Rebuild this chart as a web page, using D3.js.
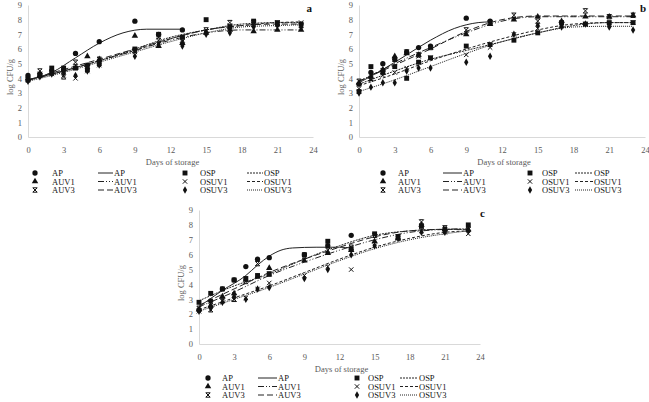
<!DOCTYPE html>
<html>
<head>
<meta charset="utf-8">
<script src="https://cdn.jsdelivr.net/npm/d3@7"></script>
<style>
  body { margin: 0; background: #fff; }
  svg { font-family: "Liberation Serif", "DejaVu Serif", serif; }
</style>
</head>
<body>
<svg id="chart" width="649" height="402"></svg>
<script>
// sampling days (markers) and fit days (lines)
const days = [0, 1, 2, 3, 4, 5, 6, 9, 11, 13, 15, 17, 19, 21, 23];
const fitDays = [0, 3, 6, 9, 12, 15, 18, 21, 23];
const xTicks = [0, 3, 6, 9, 12, 15, 18, 21, 24];
const yTicks = [0, 1, 2, 3, 4, 5, 6, 7, 8, 9];
const seriesNames = ["AP", "AUV1", "AUV3", "OSP", "OSUV1", "OSUV3"];

// panel a - observed
const a_AP    = [4.2, 4.3, 4.5, 4.6, 5.7, 4.9, 6.5, 7.9, 7.0, 7.3, null, null, null, null, null];
const a_AUV1  = [4.0, 4.2, 4.4, 4.6, 4.7, 5.5, 5.3, 6.9, 6.2, 6.4, 7.1, 7.3, 7.2, 7.3, 7.3];
const a_AUV3  = [3.9, 4.5, 4.4, 4.1, 5.1, 4.8, 5.3, 5.9, 6.6, 6.6, 7.3, 7.8, 7.8, 7.7, 7.6];
const a_OSP   = [3.9, 4.2, 4.7, 4.7, 4.7, 4.6, 5.0, 6.0, 7.0, 6.8, 8.0, 7.5, 7.9, 7.8, 7.7];
const a_OSUV1 = [4.0, 4.3, 4.3, 4.2, 4.0, 4.5, 4.9, 5.8, 6.8, 6.5, 7.2, 7.6, 7.7, 7.8, 7.8];
const a_OSUV3 = [3.8, 4.1, 4.3, 4.4, 4.2, 4.5, 4.9, 5.5, 6.3, 6.2, 7.0, 7.1, 7.5, 7.6, 7.5];
// panel a - fitted
const a_apFitDays = [0, 2, 4, 6, 8, 10, 13];
const a_fitAP     = [3.9, 4.4, 5.4, 6.4, 7.1, 7.35, 7.35];
const a_fitAUV1   = [3.85, 4.5, 5.2, 5.9, 6.6, 7.1, 7.3, 7.3, 7.3];
const a_fitAUV3   = [3.9, 4.6, 5.3, 6.0, 6.7, 7.3, 7.6, 7.7, 7.7];
const a_fitOSP    = [3.9, 4.5, 5.2, 6.0, 6.8, 7.3, 7.7, 7.8, 7.8];
const a_fitOSUV1  = [3.9, 4.5, 5.2, 5.9, 6.7, 7.3, 7.6, 7.8, 7.85];
const a_fitOSUV3  = [3.8, 4.4, 5.1, 5.8, 6.5, 7.1, 7.5, 7.6, 7.65];

// panel b - observed
const b_AP    = [3.6, 4.4, 5.0, 5.3, 5.8, 6.1, 6.2, 8.1, 7.9, null, null, null, null, null, null];
const b_AUV1  = [3.7, 4.1, 4.6, 5.5, 5.7, 5.6, 6.1, 7.0, 7.7, 8.0, 8.2, 7.9, 8.2, 8.2, 8.3];
const b_AUV3  = [3.8, 4.0, 4.5, 5.3, 5.8, 5.6, 6.1, 7.3, 7.8, 8.3, 7.9, 7.7, 8.6, 8.2, 8.3];
const b_OSP   = [3.1, 4.8, 4.4, 4.8, 4.0, 5.1, 5.4, 6.2, 6.3, 6.6, 7.1, 7.8, 7.7, 7.8, 7.8];
const b_OSUV1 = [3.3, 3.9, 4.2, 4.4, 4.7, 5.5, 5.4, 5.6, 6.1, 7.0, 7.4, 7.6, 7.7, 7.7, 7.8];
const b_OSUV3 = [3.0, 3.4, 3.7, 3.7, 4.5, 4.7, 4.7, 5.1, 5.5, 7.0, 7.6, 7.5, 7.7, 7.5, 7.3];
// panel b - fitted
const b_apFitDays = [0, 2, 4, 6, 8, 10, 11];
const b_fitAP     = [3.7, 4.6, 5.6, 6.6, 7.4, 7.8, 7.85];
const b_fitAUV1   = [3.8, 5.0, 6.1, 7.1, 7.9, 8.2, 8.2, 8.2, 8.2];
const b_fitAUV3   = [3.8, 4.9, 6.0, 7.2, 8.0, 8.25, 8.25, 8.25, 8.25];
const b_fitOSP    = [3.6, 4.5, 5.3, 5.9, 6.5, 7.1, 7.6, 7.8, 7.8];
const b_fitOSUV1  = [3.5, 4.3, 5.2, 6.0, 6.7, 7.3, 7.7, 7.8, 7.8];
const b_fitOSUV3  = [3.1, 3.9, 4.8, 5.7, 6.5, 7.1, 7.5, 7.55, 7.55];

// panel c - observed
const c_AP    = [2.3, 2.9, 3.7, 4.3, 5.2, 5.7, 5.8, 6.0, 6.6, 7.3, null, null, null, null, null];
const c_AUV1  = [2.3, 2.6, 3.2, 3.4, 4.3, 4.5, 5.1, 5.6, 6.1, 6.3, 6.9, 7.1, 8.0, 7.7, 7.7];
const c_AUV3  = [2.4, 2.3, 2.9, 3.0, 4.2, 5.4, 4.7, 5.9, 6.3, 6.5, 7.3, 7.2, 8.2, 7.8, 7.7];
const c_OSP   = [2.8, 3.4, 3.7, 4.3, 4.4, 4.6, 4.7, 6.0, 6.9, 6.4, 7.4, 7.2, 7.9, 7.7, 8.0];
const c_OSUV1 = [2.2, 2.6, 2.9, 3.0, 3.1, 3.7, 4.1, 4.6, 5.2, 5.0, 6.6, 7.1, 7.6, 7.5, 7.4];
const c_OSUV3 = [2.2, 2.4, 2.8, 3.2, 3.0, 3.7, 3.8, 4.4, 5.0, 6.0, 6.6, 7.1, 7.5, 7.5, 7.6];
// panel c - fitted
const c_apFitDays = [0, 2, 4, 5, 6, 7, 8, 10, 12, 13];
const c_fitAP     = [2.5, 3.6, 4.6, 5.3, 5.9, 6.3, 6.45, 6.5, 6.5, 6.45];
const c_fitAUV1   = [2.5, 3.5, 4.6, 5.5, 6.3, 7.0, 7.5, 7.7, 7.75];
const c_fitAUV3   = [2.6, 3.7, 4.8, 5.7, 6.5, 7.2, 7.6, 7.7, 7.7];
const c_fitOSP    = [2.9, 3.9, 4.7, 5.7, 6.6, 7.3, 7.6, 7.7, 7.7];
const c_fitOSUV1  = [2.3, 3.1, 3.9, 4.8, 5.7, 6.5, 7.1, 7.5, 7.6];
const c_fitOSUV3  = [2.2, 3.0, 3.8, 4.7, 5.6, 6.4, 7.0, 7.4, 7.6];

const panels = [
  { label: "a", xr: [28, 313], yr: [137, 5], lab: [312, 8],
    obs: [a_AP, a_AUV1, a_AUV3, a_OSP, a_OSUV1, a_OSUV3],
    apFit: a_apFitDays, fit: [a_fitAP, a_fitAUV1, a_fitAUV3, a_fitOSP, a_fitOSUV1, a_fitOSUV3],
    legY: [173, 181.5, 190], legX: [35, 52, 98, 113, 185, 200, 247, 263] },
  { label: "b", xr: [359, 645], yr: [137, 5], lab: [646, 8],
    obs: [b_AP, b_AUV1, b_AUV3, b_OSP, b_OSUV1, b_OSUV3],
    apFit: b_apFitDays, fit: [b_fitAP, b_fitAUV1, b_fitAUV3, b_fitOSP, b_fitOSUV1, b_fitOSUV3],
    legY: [173, 181.5, 190], legX: [383, 398, 443, 462, 530, 542, 575, 593] },
  { label: "c", xr: [199, 480], yr: [344, 210], lab: [485, 213],
    obs: [c_AP, c_AUV1, c_AUV3, c_OSP, c_OSUV1, c_OSUV3],
    apFit: c_apFitDays, fit: [c_fitAP, c_fitAUV1, c_fitAUV3, c_fitOSP, c_fitOSUV1, c_fitOSUV3],
    legY: [378, 386.5, 395], legX: [208, 222, 258, 277, 357, 368, 400, 418] }
];

const dashes = ["none", "6,2,1,2,1,2", "6,3", "2,1", "3,2", "1,1"];

const svg = d3.select("#chart");

// marker shapes, s = half size
function markerPath(i, s) {
  if (i === 0) return d3.symbol(d3.symbolCircle, 22)();
  if (i === 1) return d3.symbol(d3.symbolTriangle, 18)();
  if (i === 3) return d3.symbol(d3.symbolSquare, 24)();
  if (i === 5) return d3.symbol(d3.symbolDiamond, 16)();
  if (i === 4) return `M${-s},${-s}L${s},${s}M${s},${-s}L${-s},${s}`;
  // AUV3: x with bars
  return `M${-s},${-s}L${s},${-s}M${-s},${s}L${s},${s}M${-s},${-s}L${s},${s}M${s},${-s}L${-s},${s}`;
}
function drawMarker(g, i, x, y) {
  const stroked = (i === 2 || i === 4);
  g.append("path")
    .attr("transform", `translate(${x},${y})`)
    .attr("d", markerPath(i, 2.2))
    .attr("fill", stroked ? "none" : "#111")
    .attr("stroke", stroked ? "#111" : "none")
    .attr("stroke-width", 1);
}

panels.forEach(function(p) {
  const x = d3.scaleLinear().domain([0, 24]).range(p.xr);
  const y = d3.scaleLinear().domain([0, 9]).range(p.yr);
  const g = svg.append("g");

  const xa = g.append("g")
    .attr("transform", `translate(0,${p.yr[0]})`)
    .call(d3.axisBottom(x).tickValues(xTicks).tickSize(0).tickPadding(10));
  const ya = g.append("g")
    .attr("transform", `translate(${p.xr[0]},0)`)
    .call(d3.axisLeft(y).tickValues(yTicks).tickSize(0).tickPadding(6));
  [xa, ya].forEach(function(a) {
    a.select(".domain").attr("stroke", "#d9d9d9");
    a.selectAll("text").attr("fill", "#595959").style("font-size", "8.5px")
      .style("font-family", "Liberation Serif");
  });

  // axis titles
  g.append("text")
    .attr("x", (p.xr[0] + p.xr[1]) / 2 + 2).attr("y", p.yr[0] + 28)
    .attr("text-anchor", "middle").attr("fill", "#595959").style("font-size", "8.5px")
    .text("Days of storage");
  g.append("text")
    .attr("transform", `translate(${p.xr[0] - 15},${(p.yr[0] + p.yr[1]) / 2 + 6}) rotate(-90)`)
    .attr("text-anchor", "middle").attr("fill", "#595959").style("font-size", "8.5px")
    .text("log CFU/g");

  // panel letter
  g.append("text")
    .attr("x", p.lab[0]).attr("y", p.lab[1] + 4)
    .attr("text-anchor", "end").attr("font-weight", "bold").style("font-size", "11px")
    .attr("fill", "#111").text(p.label);

  // fitted lines
  const line = d3.line().curve(d3.curveMonotoneX)
    .x(function(d) { return x(d[0]); })
    .y(function(d) { return y(d[1]); });
  p.fit.forEach(function(vals, i) {
    const fd = i === 0 ? p.apFit : fitDays;
    g.append("path")
      .datum(fd.map(function(d, k) { return [d, vals[k]]; }))
      .attr("fill", "none")
      .attr("stroke", "#222")
      .attr("stroke-width", 1)
      .attr("stroke-dasharray", dashes[i])
      .attr("d", line);
  });

  // observed markers
  p.obs.forEach(function(vals, i) {
    vals.forEach(function(v, k) {
      if (v === null) return;
      drawMarker(g, i, x(days[k]), y(v));
    });
  });

  // legend
  const lx = p.legX;
  seriesNames.forEach(function(name, i) {
    const col = i < 3 ? 0 : 4;
    const ry = p.legY[i % 3];
    drawMarker(g, i, lx[col], ry);
    g.append("text").attr("x", lx[col + 1]).attr("y", ry + 3)
      .style("font-size", "8.5px").attr("fill", "#111").text(name);
    g.append("line")
      .attr("x1", lx[col + 2]).attr("x2", lx[col + 3])
      .attr("y1", ry).attr("y2", ry)
      .attr("stroke", "#222").attr("stroke-width", 1)
      .attr("stroke-dasharray", dashes[i]);
    g.append("text").attr("x", lx[col + 3] + 1).attr("y", ry + 3)
      .style("font-size", "8.5px").attr("fill", "#111").text(name);
  });
});
</script>
</body>
</html>
